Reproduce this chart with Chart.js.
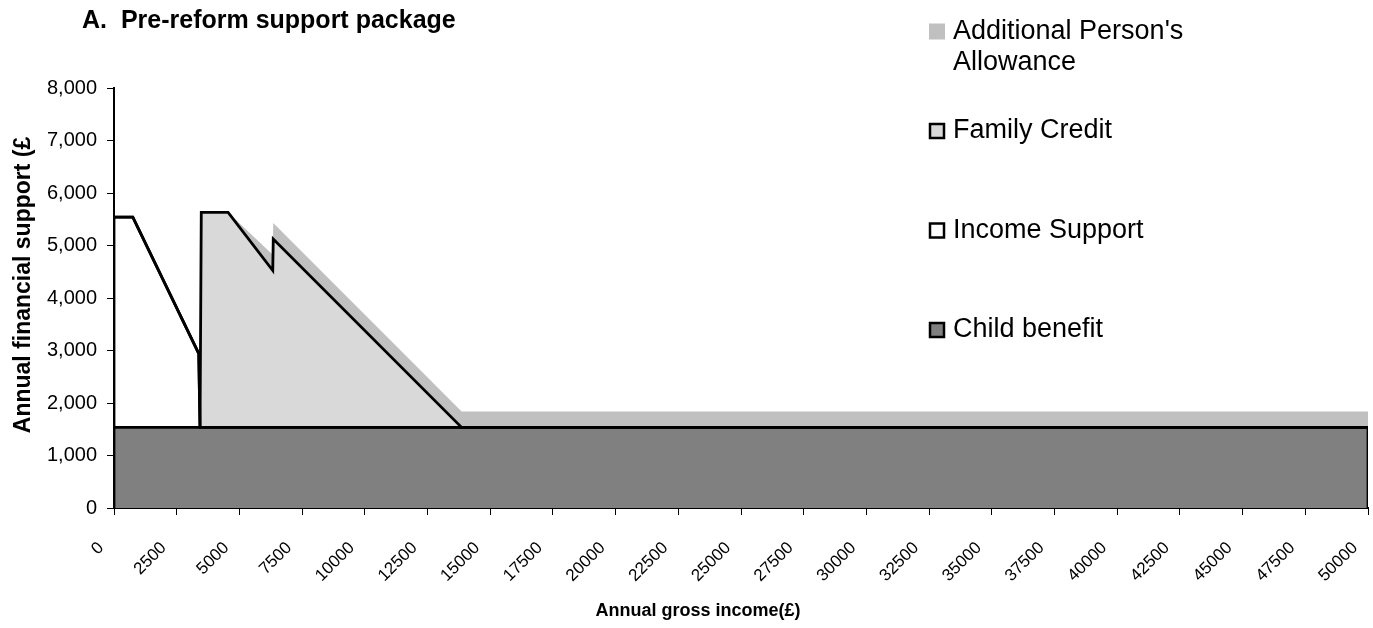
<!DOCTYPE html>
<html>
<head>
<meta charset="utf-8">
<script src="https://cdn.jsdelivr.net/npm/chart.js@4.4.1/dist/chart.umd.min.js"></script>
<style>
  html, body { margin: 0; padding: 0; background: #ffffff; }
  #wrap { width: 1373px; height: 628px; position: relative; }
</style>
</head>
<body>
<div id="wrap"><canvas id="c" width="1373" height="628"></canvas></div>
<script>
// ---- data ----
const income = [0, 750, 3380, 3430, 3480, 4550, 6330, 6350, 13860, 50000];
const childBenefit = [1535, 1535, 1535, 1535, 1535, 1535, 1535, 1535, 1535, 1535];
const incomeSupport = [4005, 4005, 1405, 0, 0, 0, 0, 0, 0, 0];
const familyCredit = [0, 0, 0, 0, 4095, 4095, 2988, 3587, 0, 0];
const additionalPersonsAllowance = [0, 0, 0, 0, 0, 0, 300, 305, 305, 305];

const seriesNames = ['Child benefit', 'Income Support', 'Family Credit', "Additional Person's Allowance"];
const seriesFill = ['#808080', '#ffffff', '#d9d9d9', '#c0c0c0'];
const seriesBorder = [true, true, true, false];

const xTickValues = [0, 2500, 5000, 7500, 10000, 12500, 15000, 17500, 20000, 22500, 25000,
  27500, 30000, 32500, 35000, 37500, 40000, 42500, 45000, 47500, 50000];
const yTickValues = [0, 1000, 2000, 3000, 4000, 5000, 6000, 7000, 8000];
const yTickLabels = ['0', '1,000', '2,000', '3,000', '4,000', '5,000', '6,000', '7,000', '8,000'];

const chartTitle = 'A.  Pre-reform support package';
const xTitle = 'Annual gross income(£)';
const yTitle = 'Annual financial support (£';

// ---- build datasets ----
const FONT = '"Liberation Sans", Arial, Helvetica, sans-serif';
Chart.defaults.font.family = FONT;
Chart.defaults.color = '#000';

const series = [childBenefit, incomeSupport, familyCredit, additionalPersonsAllowance];
const toPts = arr => income.map((x, i) => ({ x: x, y: arr[i] }));

const datasets = series.map((arr, k) => ({
  label: seriesNames[k],
  data: toPts(arr),
  backgroundColor: seriesFill[k],
  borderColor: seriesBorder[k] ? '#000' : 'rgba(0,0,0,0)',
  borderWidth: seriesBorder[k] ? 2.8 : 0,
  fill: k === 0 ? 'origin' : '-1',
  pointRadius: 0,
  tension: 0,
  stack: 'main'
}));

// vertical end edges of the stacked areas (Excel area borders)
const last = income.length - 1;
const leftTop = childBenefit[0] + incomeSupport[0] + familyCredit[0];
datasets.push({
  label: '_edgeLeft', data: [{ x: income[0], y: 0 }, { x: income[0], y: leftTop }],
  borderColor: '#000', borderWidth: 2.8, pointRadius: 0, fill: false, stack: 'edgeL'
});
datasets.push({
  label: '_edgeRight', data: [{ x: income[last], y: 0 }, { x: income[last], y: childBenefit[last] }],
  borderColor: '#000', borderWidth: 2.8, pointRadius: 0, fill: false, stack: 'edgeR'
});

// ---- titles and legend drawn on the canvas ----
const decor = {
  id: 'decor',
  afterDraw(chart) {
    const ctx = chart.ctx;
    ctx.save();
    ctx.fillStyle = '#000';
    ctx.textBaseline = 'middle';
    // chart title
    ctx.textAlign = 'left';
    ctx.font = 'bold 25px ' + FONT;
    ctx.fillText(chartTitle, 82, 21);
    // x axis title
    ctx.textAlign = 'center';
    ctx.font = 'bold 18px ' + FONT;
    ctx.fillText(xTitle, 698, 611);
    // y axis title
    ctx.save();
    ctx.translate(24, 285);
    ctx.rotate(-Math.PI / 2);
    ctx.font = 'bold 23px ' + FONT;
    ctx.fillText(yTitle, 0, 0);
    ctx.restore();
    // legend (reverse order, top = last series)
    ctx.textAlign = 'left';
    ctx.font = '27px ' + FONT;
    const boxX = 929, box = 16, textX = 953;
    let cy = 31.5;
    for (let k = seriesNames.length - 1; k >= 0; k--) {
      ctx.fillStyle = seriesFill[k];
      ctx.fillRect(boxX, cy - box / 2, box, box);
      if (seriesBorder[k]) {
        ctx.strokeStyle = '#000';
        ctx.lineWidth = 2.5;
        ctx.strokeRect(boxX + 1, cy - box / 2 + 1, box - 2, box - 2);
      }
      ctx.fillStyle = '#000';
      const words = seriesNames[k].split(' ');
      const lines = [];
      let cur = '';
      for (const w of words) {
        const t = cur ? cur + ' ' + w : w;
        if (ctx.measureText(t).width > 260 && cur) { lines.push(cur); cur = w; } else { cur = t; }
      }
      lines.push(cur);
      lines.forEach((ln, j) => ctx.fillText(ln, textX, cy + j * 31));
      cy += 99.5;
    }
    ctx.restore();
  }
};

new Chart(document.getElementById('c'), {
  type: 'line',
  data: { datasets: datasets },
  options: {
    responsive: false,
    animation: false,
    devicePixelRatio: 1,
    layout: { padding: { top: 88, right: 5, bottom: 0, left: 11 } },
    plugins: {
      legend: { display: false },
      title: { display: false },
      tooltip: { enabled: false },
      filler: { drawTime: 'beforeDatasetsDraw' }
    },
    scales: {
      x: {
        type: 'linear',
        min: 0, max: 50000,
        afterBuildTicks: axis => { axis.ticks = xTickValues.map(v => ({ value: v })); },
        afterFit: s => { s.height = 120; s.paddingRight = 0; s.paddingLeft = 0; },
        ticks: {
          autoSkip: false, minRotation: 45, maxRotation: 45,
          padding: 23, labelOffset: -13,
          font: { size: 17 }, color: '#000',
          callback: v => String(v)
        },
        grid: { display: true, drawOnChartArea: false, drawTicks: true, tickLength: 7, color: '#000', lineWidth: 1 },
        border: { display: true, color: '#000', width: 2 },
        title: { display: false }
      },
      y: {
        type: 'linear',
        stacked: true,
        min: 0, max: 8000,
        afterBuildTicks: axis => { axis.ticks = yTickValues.map(v => ({ value: v })); },
        afterFit: s => { s.width = 103; s.paddingTop = 0; s.paddingBottom = 0; },
        ticks: {
          padding: 10, font: { size: 20 }, color: '#000',
          callback: (v, i) => yTickLabels[i]
        },
        grid: { display: true, drawOnChartArea: false, drawTicks: true, tickLength: 7, color: '#000', lineWidth: 1 },
        border: { display: true, color: '#000', width: 2 },
        title: { display: false }
      }
    }
  },
  plugins: [decor]
});
</script>
</body>
</html>
